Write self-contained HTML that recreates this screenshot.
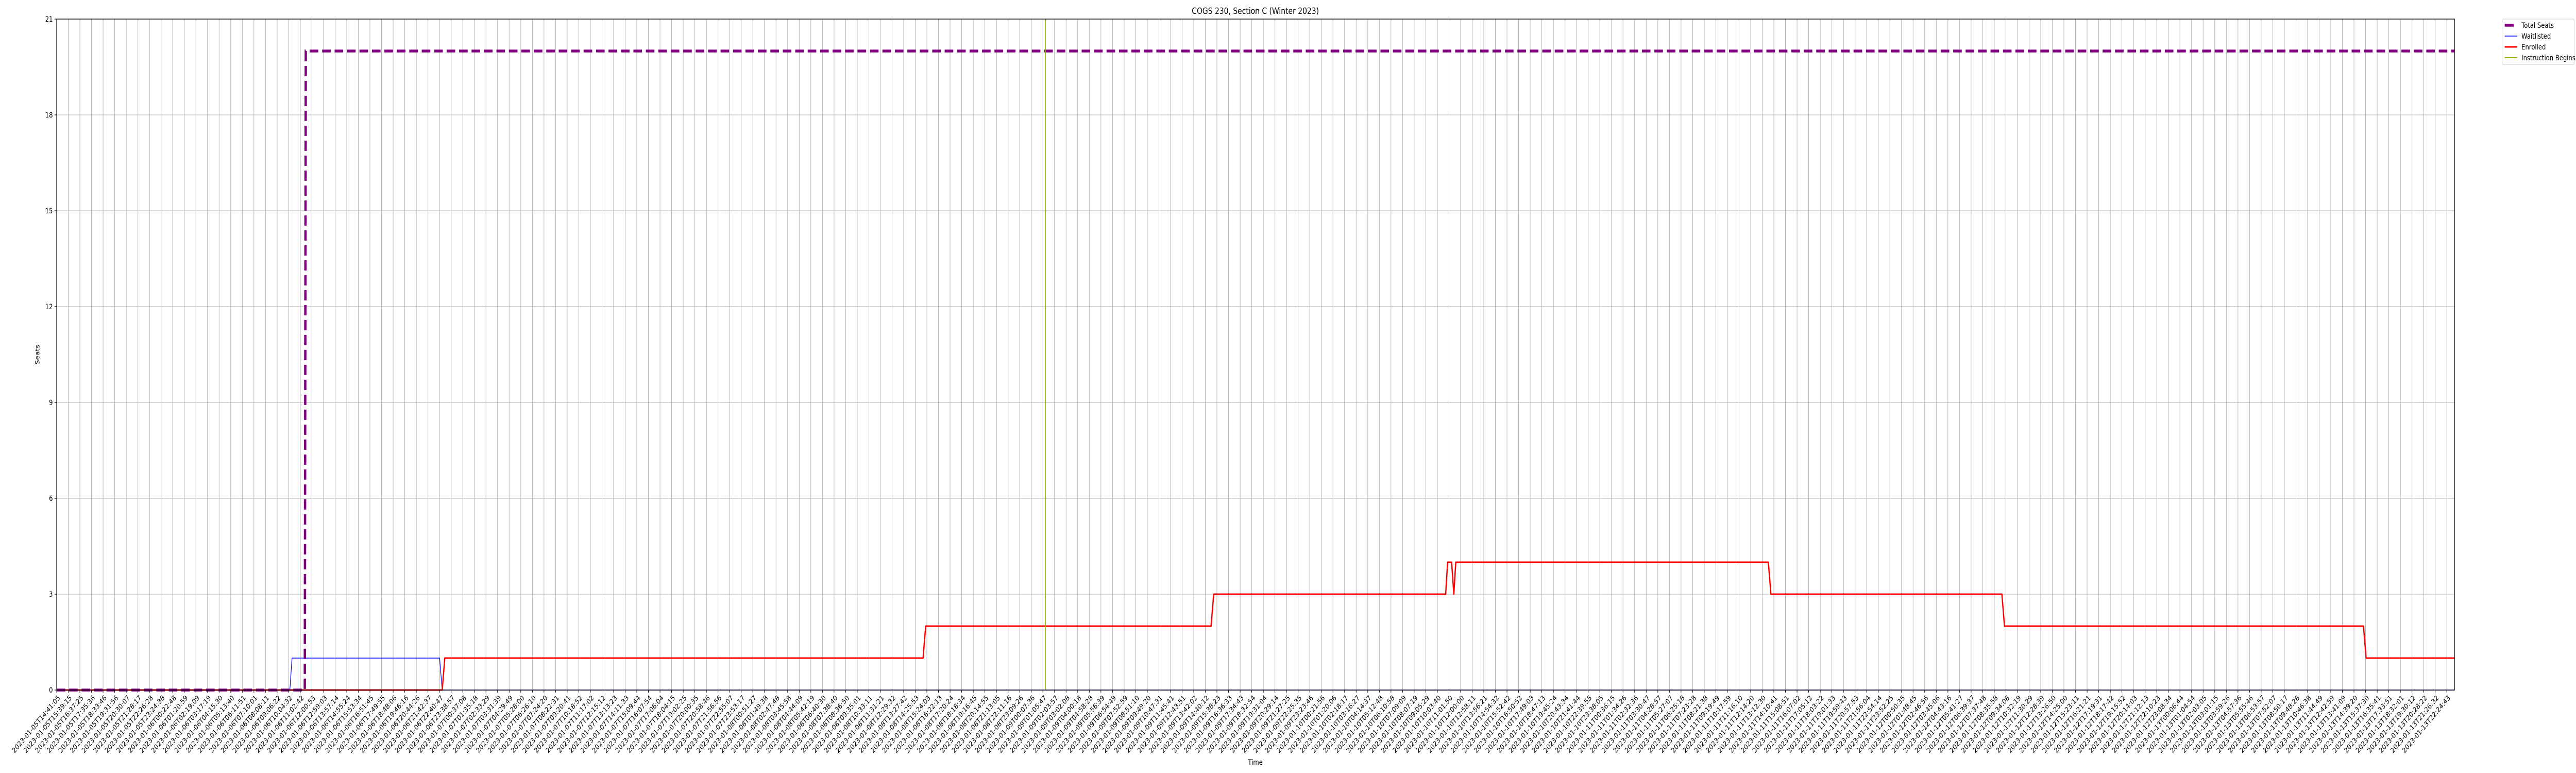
<!DOCTYPE html>
<html><head><meta charset="utf-8"><title>COGS 230, Section C (Winter 2023)</title>
<style>html,body{margin:0;padding:0;background:#fff;overflow:hidden}#chart{display:block;overflow:hidden;width:100vw;height:100vh}text{font-family:"DejaVu Sans","Liberation Sans",sans-serif}</style>
</head><body>
<svg id="chart" viewBox="0 0 6000 1500" preserveAspectRatio="none" xmlns="http://www.w3.org/2000/svg">
<rect width="6000" height="1500" fill="#fff"/>
<g id="grid"></g>
<g id="series"></g>
<g id="axes"></g>
<text x="2924" y="27" font-size="16.7" text-anchor="middle">COGS 230, Section C (Winter 2023)</text>
<text x="2924" y="1484" font-size="13.9" text-anchor="middle">Time</text>
<text transform="translate(92,688) rotate(-90)" font-size="13.9" text-anchor="middle">Seats</text>
<g>
<rect x="5828" y="37" width="168" height="88" rx="3" fill="#fff" fill-opacity="0.8" stroke="#ccc" stroke-width="1"/>
<line x1="5834" y1="49" x2="5855" y2="49" stroke="#800080" stroke-width="5.5"/>
<text x="5873" y="54" font-size="13.9">Total Seats</text>
<line x1="5834" y1="70" x2="5863" y2="70" stroke="#0000ff" stroke-width="1.5"/>
<text x="5873" y="75" font-size="13.9">Waitlisted</text>
<line x1="5834" y1="91" x2="5863" y2="91" stroke="#ff0000" stroke-width="3"/>
<text x="5873" y="96" font-size="13.9">Enrolled</text>
<line x1="5834" y1="112" x2="5863" y2="112" stroke="#8db600" stroke-width="2"/>
<text x="5873" y="117" font-size="13.9">Instruction Begins</text>
</g>
</svg>
<script>
// Data: times in minutes after 2023-01-05T14:41:05
const yTicks = [0, 3, 6, 9, 12, 15, 18, 21];
const totalTimes  = [0, 1244, 1249, 12022];
const totalValues = [0, 0, 20, 20];
const waitTimes  = [0, 1169, 1180, 1920, 1933, 12022];
const waitValues = [0, 0, 1, 1, 0, 0];
const enrolledTimes  = [0, 1933, 1946, 4344, 4357, 5788, 5801, 6964, 6974, 6994, 7005, 7015, 8582, 8595, 9753, 9766, 11566, 11579, 12022];
const enrolledValues = [0, 0, 1, 1, 2, 2, 3, 3, 4, 4, 3, 4, 4, 3, 3, 2, 2, 1, 1];
const instructionTime = 4957;
const tickCount = 207;
const tickStepMin = 58.173;
const startMs = Date.UTC(2023, 0, 5, 14, 41, 5);

const L = 132, R = 5717, T = 37, B = 1339;
const minPerPx = 2.1526;
const NS = 'http://www.w3.org/2000/svg';
function xs(m) { return L + m / minPerPx; }
function ys(v) { return B - v * (B - T) / 21; }
function mk(tag, attrs, parent) {
  const e = document.createElementNS(NS, tag);
  for (const k in attrs) e.setAttribute(k, attrs[k]);
  parent.appendChild(e); return e;
}
const grid = document.getElementById('grid');
const axes = document.getElementById('axes');
const series = document.getElementById('series');
function pad(n) { return String(n).padStart(2, '0'); }
function fmt(ms) {
  const d = new Date(ms);
  return d.getUTCFullYear() + '-' + pad(d.getUTCMonth() + 1) + '-' + pad(d.getUTCDate()) + 'T' + pad(d.getUTCHours()) + ':' + pad(d.getUTCMinutes()) + ':' + pad(d.getUTCSeconds());
}
for (let i = 0; i < tickCount; i++) {
  const m = i * tickStepMin;
  const x = xs(m);
  const g = mk('line', {x1: x, y1: T, x2: x, y2: B, stroke: '#b0b0b0', 'stroke-width': 1.1}, grid);
  
  
  const t = mk('line', {x1: x, y1: B, x2: x, y2: B + 5, stroke: '#000', 'stroke-width': 1.1}, axes);
  
  
  const lb = mk('text', {'font-size': 13.9, 'text-anchor': 'end', transform: 'translate(' + (x + 9) + ',' + (B + 16) + ') rotate(-45)'}, axes);
  lb.textContent = fmt(startMs + m * 60000);
  
  
}
yTicks.forEach(v => {
  const y = ys(v);
  const g = mk('line', {x1: L, y1: y, x2: R, y2: y, stroke: '#b0b0b0', 'stroke-width': 1.1}, grid);
  
  
  const t = mk('line', {x1: L - 5, y1: y, x2: L, y2: y, stroke: '#000', 'stroke-width': 1.1}, axes);
  
  
  const lb = mk('text', {x: L - 9, y: y + 5, 'font-size': 13.9, 'text-anchor': 'end'}, axes);
  lb.textContent = v;
  
  
});
const frame = mk('rect', {x: L, y: T, width: R - L, height: B - T, fill: 'none', stroke: '#000', 'stroke-width': 1.4}, axes);


function pts(ts, vs) { return ts.map((t, i) => xs(t).toFixed(1) + ',' + ys(vs[i]).toFixed(1)).join(' '); }
const w = mk('polyline', {points: pts(waitTimes, waitValues), fill: 'none', stroke: '#0000ff', 'stroke-width': 1.5}, series);


const en = mk('polyline', {points: pts(enrolledTimes, enrolledValues), fill: 'none', stroke: '#ff0000', 'stroke-width': 3, 'stroke-linejoin': 'round'}, series);


const ts = mk('polyline', {points: pts(totalTimes, totalValues), fill: 'none', stroke: '#800080', 'stroke-width': 5.5, 'stroke-dasharray': '20 9'}, series);


const ib = mk('line', {x1: xs(instructionTime), y1: T, x2: xs(instructionTime), y2: B, stroke: '#8db600', 'stroke-width': 2}, series);


</script>
</body></html>
